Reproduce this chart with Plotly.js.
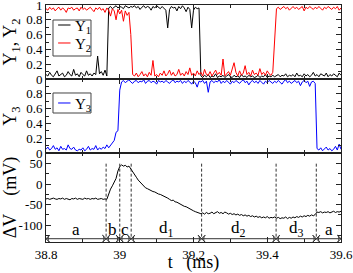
<!DOCTYPE html>
<html><head><meta charset="utf-8">
<script src="https://cdn.plot.ly/plotly-3.0.1.min.js"></script>
<style>html,body{margin:0;padding:0;background:#fff}#c{width:353px;height:273px}</style>
</head><body><div id="c"></div>
<script>
const t = [
38.800,38.805,38.810,38.815,38.820,38.825,38.830,38.835,38.840,38.845,
38.850,38.855,38.860,38.865,38.870,38.875,38.880,38.885,38.890,38.895,
38.900,38.905,38.910,38.915,38.920,38.925,38.930,38.935,38.940,38.945,
38.950,38.955,38.960,38.965,38.970,38.975,38.980,38.985,38.990,38.995,
39.000,39.005,39.010,39.015,39.020,39.025,39.030,39.035,39.040,39.045,
39.050,39.055,39.060,39.065,39.070,39.075,39.080,39.085,39.090,39.095,
39.100,39.105,39.110,39.115,39.120,39.125,39.130,39.135,39.140,39.145,
39.150,39.155,39.160,39.165,39.170,39.175,39.180,39.185,39.190,39.195,
39.200,39.205,39.210,39.215,39.220,39.225,39.230,39.235,39.240,39.245,
39.250,39.255,39.260,39.265,39.270,39.275,39.280,39.285,39.290,39.295,
39.300,39.305,39.310,39.315,39.320,39.325,39.330,39.335,39.340,39.345,
39.350,39.355,39.360,39.365,39.370,39.375,39.380,39.385,39.390,39.395,
39.400,39.405,39.410,39.415,39.420,39.425,39.430,39.435,39.440,39.445,
39.450,39.455,39.460,39.465,39.470,39.475,39.480,39.485,39.490,39.495,
39.500,39.505,39.510,39.515,39.520,39.525,39.530,39.535,39.540,39.545,
39.550,39.555,39.560,39.565,39.570,39.575,39.580,39.585,39.590,39.595,
39.600];

const y1 = [
0.06,0.04,0.09,0.05,0.03,0.07,0.11,0.04,0.06,0.08,
0.03,0.05,0.10,0.06,0.04,0.13,0.05,0.07,0.03,0.09,
0.06,0.04,0.11,0.05,0.07,0.04,0.08,0.06,0.31,0.07,
0.10,0.05,0.12,0.04,0.96,0.98,0.95,0.97,0.99,0.96,
0.98,0.97,0.95,0.99,0.97,0.96,0.98,0.97,0.99,0.96,
0.98,0.94,0.97,0.99,0.96,0.98,0.97,0.93,0.98,0.96,
0.99,0.97,0.95,0.98,0.96,0.93,0.69,0.94,0.98,0.96,
0.97,0.92,0.98,0.95,0.99,0.96,0.91,0.97,0.94,0.69,
0.93,0.97,0.95,0.96,0.04,0.02,0.05,0.03,0.06,0.02,
0.04,0.03,0.07,0.02,0.04,0.03,0.05,0.02,0.04,0.06,
0.03,0.02,0.05,0.03,0.04,0.02,0.06,0.03,0.04,0.02,
0.05,0.03,0.04,0.02,0.03,0.05,0.02,0.04,0.03,0.06,
0.02,0.04,0.03,0.05,0.03,0.04,0.06,0.03,0.05,0.04,
0.07,0.03,0.05,0.04,0.06,0.03,0.08,0.04,0.05,0.03,
0.07,0.04,0.06,0.03,0.05,0.09,0.04,0.06,0.03,0.07,
0.05,0.04,0.08,0.03,0.06,0.04,0.07,0.05,0.03,0.08,
0.05];

const y2 = [
0.95,0.93,0.97,0.94,0.96,0.92,0.95,0.97,0.93,0.96,
0.94,0.90,0.96,0.95,0.97,0.93,0.95,0.96,0.92,0.97,
0.94,0.96,0.93,0.95,0.97,0.94,0.91,0.96,0.94,0.97,
0.93,0.95,0.90,0.96,0.93,0.85,0.95,0.92,0.80,0.94,
0.88,0.93,0.78,0.92,0.86,0.90,0.60,0.06,0.04,0.08,
0.03,0.06,0.10,0.04,0.07,0.03,0.09,0.05,0.25,0.04,
0.06,0.03,0.08,0.05,0.11,0.04,0.07,0.12,0.05,0.09,
0.04,0.06,0.13,0.05,0.08,0.04,0.10,0.06,0.15,0.05,
0.08,0.04,0.11,0.06,0.09,0.04,0.13,0.06,0.05,0.10,
0.04,0.08,0.12,0.06,0.09,0.05,0.27,0.04,0.07,0.10,
0.05,0.15,0.22,0.09,0.04,0.11,0.05,0.08,0.18,0.06,
0.09,0.04,0.12,0.06,0.08,0.05,0.14,0.06,0.09,0.05,
0.11,0.07,0.05,0.09,0.50,0.95,0.97,0.94,0.96,0.98,
0.95,0.97,0.93,0.96,0.98,0.95,0.97,0.94,0.96,0.98,
0.92,0.97,0.95,0.98,0.96,0.94,0.97,0.95,0.98,0.96,
0.93,0.97,0.95,0.98,0.96,0.94,0.97,0.95,0.98,0.93,
0.96];

const y3 = [
0.05,0.08,0.04,0.06,0.10,0.05,0.07,0.03,0.09,0.05,
0.06,0.04,0.11,0.06,0.05,0.08,0.04,0.03,0.05,0.04,
0.07,0.03,0.05,0.09,0.04,0.06,0.05,0.10,0.04,0.07,
0.05,0.08,0.06,0.11,0.07,0.10,0.13,0.17,0.28,0.30,
0.85,0.96,0.98,0.95,0.97,0.99,0.96,0.94,0.97,0.98,
0.95,0.97,0.96,0.99,0.94,0.97,0.98,0.95,0.97,0.96,
0.93,0.98,0.96,0.97,0.95,0.98,0.96,0.94,0.97,0.99,
0.95,0.97,0.96,0.98,0.94,0.97,0.95,0.98,0.96,0.93,
0.97,0.95,0.89,0.97,0.96,0.98,0.94,0.97,0.82,0.96,
0.98,0.95,0.97,0.96,0.99,0.94,0.97,0.95,0.98,0.96,
0.93,0.97,0.95,0.98,0.96,0.94,0.97,0.99,0.95,0.97,
0.92,0.96,0.98,0.95,0.97,0.94,0.98,0.96,0.93,0.97,
0.95,0.98,0.96,0.94,0.97,0.95,0.98,0.96,0.93,0.97,
0.99,0.95,0.97,0.94,0.96,0.98,0.95,0.97,0.91,0.96,
0.98,0.95,0.97,0.90,0.96,0.97,0.94,0.06,0.04,0.07,
0.03,0.05,0.08,0.04,0.06,0.03,0.05,0.09,0.04,0.12,
0.05];

const dV = [
-36,-35,-37,-36,-34,-36,-37,-35,-36,-34,
-37,-35,-36,-38,-35,-36,-34,-37,-35,-36,
-37,-34,-36,-35,-37,-35,-36,-34,-37,-36,
-35,-37,-36,-37,-24,-12,-4,6,14,32,
43,47,44,46,42,44,38,29,24,17,
10,5,0,-5,-9,-11,-14,-15,-18,-19,
-22,-24,-25,-27,-30,-31,-34,-37,-40,-39,
-43,-44,-47,-48,-52,-54,-55,-58,-60,-63,
-65,-67,-69,-70,-72,-70,-73,-69,-72,-71,
-68,-72,-70,-67,-71,-69,-72,-68,-70,-73,
-71,-74,-72,-75,-73,-76,-74,-77,-75,-78,
-76,-79,-77,-80,-78,-81,-79,-82,-80,-82,
-79,-83,-81,-82,-80,-83,-81,-84,-82,-83,
-80,-84,-81,-83,-80,-82,-79,-81,-78,-80,
-77,-79,-76,-78,-75,-77,-74,-68,-69,-67,
-70,-68,-69,-67,-70,-68,-66,-69,-67,-68,
-66];

const boundaries = [38.963, 39.0, 39.031, 39.222, 39.424, 39.533];
const segLabels = ['a', 'b', 'c', 'd<sub>1</sub>', 'd<sub>2</sub>', 'd<sub>3</sub>', 'a'];
const seriesNames = ['Y<sub>1</sub>', 'Y<sub>2</sub>', 'Y<sub>3</sub>'];
const xRange = [38.8, 39.6];
const dvTickVals = [-100, -50, 0, 50];
const dvTickText = ['-100', '-50', '0', '50'];
const yTickVals = [0, 0.2, 0.4, 0.6, 0.8, 1];
const yTickText = ['0', '0.2', '0.4', '0.6', '0.8', '1'];

const FONT = '"Liberation Serif", "Times New Roman", serif';
const AX = '#222';

function xax(extra) {
  return Object.assign({
    range: xRange, tick0: 38.8, dtick: 0.2, ticks: 'inside', ticklen: 5, tickcolor: AX,
    minor: {dtick: 0.1, ticks: 'inside', ticklen: 3, tickcolor: AX},
    showline: true, linecolor: AX, linewidth: 1, mirror: 'ticks', showgrid: false, zeroline: false,
    tickfont: {family: FONT, size: 13, color: '#000'}
  }, extra);
}
function yax(extra) {
  return Object.assign({
    ticks: 'inside', ticklen: 5, tickcolor: AX, ticklabeloverflow: 'allow',
    showline: true, linecolor: AX, linewidth: 1, mirror: 'ticks', showgrid: false, zeroline: false,
    tickfont: {family: FONT, size: 13, color: '#000'}
  }, extra);
}

// arrows between segment edges: a line with arrowheads (tips at the edges)
const edges = [xRange[0]].concat(boundaries, [xRange[1]]);
const arrowY = -133;
const arrowX = [], arrowYs = [], arrowAng = [];
for (let i = 0; i < edges.length - 1; i++) {
  arrowX.push(edges[i], edges[i + 1]);
  arrowYs.push(arrowY, arrowY);
  arrowAng.push(-90, 90);
}

const traces = [
  {x: t, y: dV, xaxis: 'x', yaxis: 'y', mode: 'lines', line: {color: '#000', width: 1}, name: 'ΔV', showlegend: false},
  {x: arrowX, y: arrowYs, xaxis: 'x', yaxis: 'y', mode: 'lines+markers', line: {color: '#333', width: 1},
   marker: {symbol: 'arrow-wide-open', size: 5, angle: arrowAng, color: '#333', line: {color: '#333', width: 1}},
   name: 'segments', showlegend: false, cliponaxis: false},
  {x: t, y: y3, xaxis: 'x2', yaxis: 'y2', mode: 'lines', line: {color: '#0000ff', width: 1}, name: 'Y3', showlegend: false},
  {x: t, y: y1, xaxis: 'x3', yaxis: 'y3', mode: 'lines', line: {color: '#000', width: 1}, name: 'Y1', showlegend: false},
  {x: t, y: y2, xaxis: 'x3', yaxis: 'y3', mode: 'lines', line: {color: '#ff0000', width: 1}, name: 'Y2', showlegend: false}
];

const shapes = [];
const annotations = [];
boundaries.forEach(b => shapes.push({type: 'line', xref: 'x', yref: 'y', x0: b, x1: b, y0: 50, y1: arrowY,
  line: {color: '#333', width: 1, dash: '3px,2px'}}));
for (let i = 0; i < edges.length - 1; i++) {
  annotations.push({xref: 'x', yref: 'y', x: (edges[i] + edges[i + 1]) / 2, y: -110, text: segLabels[i],
    showarrow: false, font: {family: FONT, size: 17, color: '#000'}, xanchor: 'center', yanchor: 'middle'});
}

// legend boxes (paper coords)
function legendBox(x0, x1, y0, y1) {
  shapes.push({type: 'rect', xref: 'paper', yref: 'paper', x0: x0, x1: x1, y0: y0, y1: y1,
    line: {color: '#444', width: 1}, fillcolor: 'rgba(255,255,255,0)'});
}
function legendRow(y, color, label) {
  shapes.push({type: 'line', xref: 'paper', yref: 'paper', x0: 0.041, x1: 0.083, y0: y, y1: y,
    line: {color: color, width: 1}});
  annotations.push({xref: 'paper', yref: 'paper', x: 0.092, y: y - 0.008, xanchor: 'left', yanchor: 'middle',
    text: label, showarrow: false, font: {family: FONT, size: 15, color: '#000'}});
}
legendBox(0.0237, 0.1525, 0.7848, 0.9367);
legendRow(0.9156, '#000', seriesNames[0]);
legendRow(0.8397, '#ff0000', seriesNames[1]);
legendBox(0.0237, 0.1525, 0.5443, 0.6287);
legendRow(0.5865, '#0000ff', seriesNames[2]);

const layout = {
  width: 353, height: 273,
  margin: {l: 46, r: 12, t: 5, b: 31},
  paper_bgcolor: '#fff', plot_bgcolor: '#fff',
  showlegend: false,
  font: {family: FONT, color: '#000'},
  xaxis: xax({anchor: 'y', title: {text: 't&nbsp;&nbsp;&nbsp;(ms)', font: {family: FONT, size: 18}, standoff: 8}}),
  yaxis: yax({domain: [0, 0.3755], range: [-141, 76], tickvals: dvTickVals, ticktext: dvTickText,
    minor: {tickvals: [-125, -75, -25, 25, 75], ticks: 'inside', ticklen: 3, tickcolor: AX},
    title: {text: 'ΔV&nbsp;&nbsp;&nbsp;&nbsp;(mV)', font: {family: FONT, size: 18}}}),
  xaxis2: xax({anchor: 'y2', showticklabels: false, matches: 'x'}),
  yaxis2: yax({domain: [0.3755, 0.6878], range: [0, 1], tickvals: yTickVals.slice(0, 5), ticktext: yTickText.slice(0, 5),
    minor: {dtick: 0.1, ticks: 'inside', ticklen: 3, tickcolor: AX},
    title: {text: 'Y<sub>3</sub>', font: {family: FONT, size: 18}}}),
  xaxis3: xax({anchor: 'y3', showticklabels: false, matches: 'x'}),
  yaxis3: yax({domain: [0.6878, 1], range: [0, 1], tickvals: yTickVals, ticktext: yTickText,
    minor: {dtick: 0.1, ticks: 'inside', ticklen: 3, tickcolor: AX},
    title: {text: 'Y<sub>1</sub>, Y<sub>2</sub>', font: {family: FONT, size: 18}}}),
  shapes: shapes,
  annotations: annotations
};

Plotly.newPlot('c', traces, layout, {staticPlot: true, displayModeBar: false});
</script>
</body></html>
